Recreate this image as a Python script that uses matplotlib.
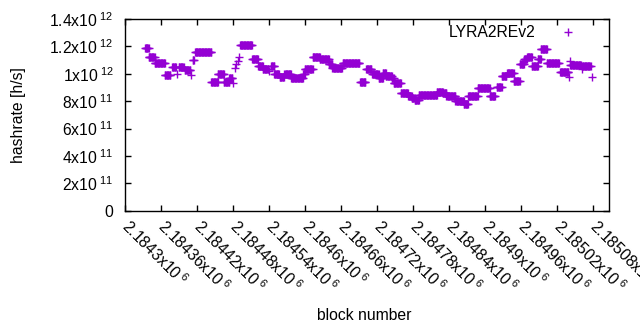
import numpy as np
import matplotlib
matplotlib.use("Agg")
import matplotlib.pyplot as plt

plt.rcParams['font.family'] = ['Liberation Sans', 'DejaVu Sans']
plt.rcParams['mathtext.fontset'] = 'custom'
plt.rcParams['mathtext.rm'] = 'Liberation Sans'
plt.rcParams['mathtext.it'] = 'Liberation Sans'
plt.rcParams['mathtext.default'] = 'regular'

# runs of blocks with the same estimated hashrate
run_first = [2184334, 2184340, 2184350, 2184367, 2184379, 2184387, 2184390, 2184400,
             2184411, 2184413, 2184417, 2184444, 2184455, 2184465, 2184474, 2184480,
             2184484, 2184486, 2184489, 2184491, 2184492, 2184512, 2184522, 2184530,
             2184540, 2184544, 2184549, 2184558, 2184566, 2184577, 2184597, 2184600,
             2184613, 2184625, 2184640, 2184646, 2184663, 2184692, 2184702, 2184712,
             2184723, 2184730, 2184735, 2184745, 2184748, 2184760, 2184772, 2184778,
             2184783, 2184790, 2184820, 2184830, 2184836, 2184851, 2184865, 2184872,
             2184888, 2184908, 2184920, 2184928, 2184937, 2184948, 2184958, 2184965,
             2184970, 2184978, 2184988, 2184993, 2185003, 2185025, 2185040, 2185041,
             2185042, 2185061, 2185062, 2185079]
run_last = [2184340, 2184350, 2184367, 2184376, 2184385, 2184387, 2184398, 2184409,
            2184411, 2184415, 2184444, 2184455, 2184465, 2184474, 2184479, 2184480,
            2184484, 2184486, 2184489, 2184491, 2184512, 2184522, 2184530, 2184539,
            2184540, 2184549, 2184557, 2184565, 2184577, 2184597, 2184600, 2184613,
            2184625, 2184640, 2184646, 2184662, 2184691, 2184701, 2184711, 2184723,
            2184730, 2184735, 2184745, 2184748, 2184760, 2184772, 2184778, 2184783,
            2184790, 2184820, 2184830, 2184836, 2184851, 2184865, 2184872, 2184888,
            2184908, 2184917, 2184928, 2184936, 2184948, 2184958, 2184965, 2184970,
            2184978, 2184988, 2184993, 2185003, 2185023, 2185039, 2185040, 2185041,
            2185060, 2185061, 2185076, 2185079]
run_rate = [1.186, 1.12, 1.076, 0.99, 1.047, 0.995, 1.05, 1.027,
            0.99, 1.098, 1.156, 0.937, 0.995, 0.942, 0.97, 0.93,
            1.044, 1.069, 1.093, 1.12, 1.21, 1.105, 1.058, 1.032,
            1.02, 1.058, 0.998, 0.978, 0.995, 0.966, 0.995, 1.032,
            1.12, 1.105, 1.069, 1.04, 1.076, 0.937, 1.035, 0.995,
            0.97, 1.007, 0.983, 0.97, 0.93, 0.857, 0.839, 0.825,
            0.808, 0.844, 0.868, 0.857, 0.835, 0.80, 0.778, 0.839,
            0.898, 0.839, 0.905, 0.985, 1.007, 0.947, 1.069, 1.105,
            1.124, 1.06, 1.105, 1.178, 1.076, 1.01, 0.974, 1.095,
            1.064, 1.032, 1.056, 0.974]

ytick_values = [0, 2e11, 4e11, 6e11, 8e11, 1e12, 1.2e12, 1.4e12]
ytick_labels = ['0', r'2x10$^{\ 11}$', r'4x10$^{\ 11}$', r'6x10$^{\ 11}$',
                r'8x10$^{\ 11}$', r'1x10$^{\ 12}$', r'1.2x10$^{\ 12}$', r'1.4x10$^{\ 12}$']
xtick_values = [2184300, 2184360, 2184420, 2184480, 2184540, 2184600, 2184660,
                2184720, 2184780, 2184840, 2184900, 2184960, 2185020, 2185080]
xtick_labels = ['2.1843', '2.18436', '2.18442', '2.18448', '2.18454', '2.1846', '2.18466',
                '2.18472', '2.18478', '2.18484', '2.1849', '2.18496', '2.18502', '2.18508']

blocks = np.concatenate([np.arange(a, b + 1) for a, b in zip(run_first, run_last)])
rates = np.concatenate([np.full(b - a + 1, r * 1e12) for a, b, r in zip(run_first, run_last, run_rate)])

fs = 11.3
fig = plt.figure(figsize=(6.4, 3.3), dpi=100)
ax = fig.add_axes([0.1948, 0.3615, 0.757, 0.581])

ax.plot(blocks, rates, linestyle='none', marker='+', color='#9400D3',
        markersize=5.5, markeredgewidth=1.0, label='LYRA2REv2')

ax.set_xlim(2184300, 2185107)
ax.set_ylim(0, 1.4e12)
ax.set_yticks(ytick_values)
ax.set_yticklabels(ytick_labels, fontsize=fs)
ax.set_xticks(xtick_values)
ax.set_xticklabels([s + r'x10$^{\ 6}$' for s in xtick_labels], fontsize=fs,
                   rotation=-45, ha='left', va='center', rotation_mode='anchor')
ax.tick_params(direction='in', length=4, top=True, right=True, width=1, colors='black')
ax.tick_params(axis='x', pad=9)
ax.tick_params(axis='y', pad=8)
for s in ax.spines.values():
    s.set_linewidth(1)

ax.set_xlabel('block number', fontsize=fs, va='center')
ax.set_ylabel('hashrate [h/s]', fontsize=fs, va='center')
ax.xaxis.set_label_coords(0.495, -0.549)
ax.yaxis.set_label_coords(-0.22, 0.5)

ax.legend(loc='upper right', frameon=False, markerfirst=False, fontsize=fs,
          handlelength=2, handletextpad=1.05, borderaxespad=0,
          bbox_to_anchor=(0.96, 1.0))

fig.savefig('out.png', dpi=100)
